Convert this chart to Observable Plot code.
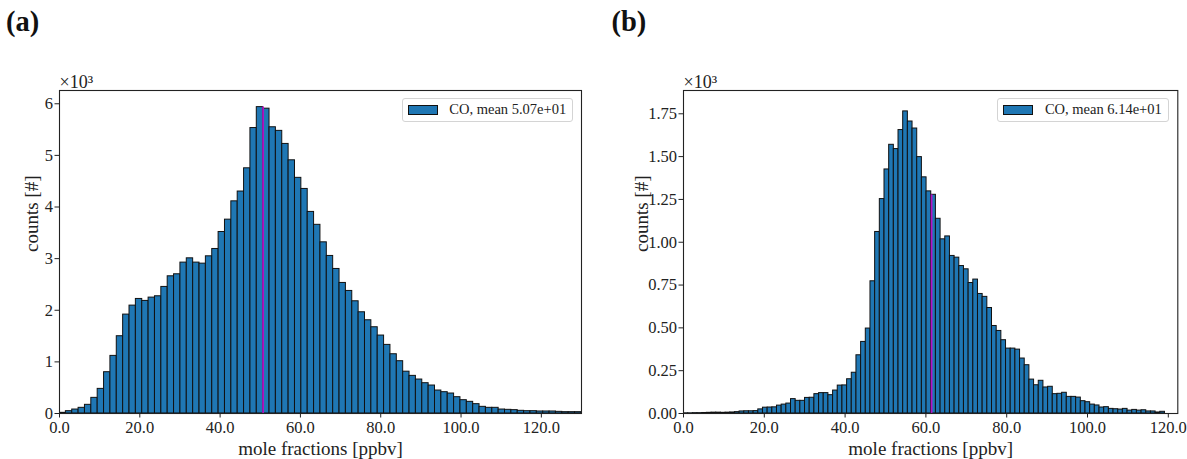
<!DOCTYPE html>
<html>
<head>
<meta charset="utf-8">
<script src="https://cdn.jsdelivr.net/npm/d3@7"></script>
<script src="https://cdn.jsdelivr.net/npm/@observablehq/plot@0.6"></script>
<style>
  body { margin: 0; background: #fff; font-family: "Liberation Serif", serif; color: #222; }
  #fig { position: relative; width: 1187px; height: 459px; overflow: hidden; }
  .panel { position: absolute; top: 0; width: 593px; height: 459px; }
  .panel svg { position: absolute; left: 0; top: 0; }
  .tag { position: absolute; top: 6px; font-weight: bold; font-size: 28.5px; color: #111; }
  .legend {
    position: absolute; height: 24.6px; box-sizing: border-box;
    border: 1px solid #d4d4d4; border-radius: 3px; background: rgba(255,255,255,0.85);
    display: flex; align-items: center; padding-left: 5px;
    font-size: 14.5px; white-space: nowrap; color: #222;
  }
  .legend .swatch {
    width: 30px; height: 10.7px; box-sizing: border-box;
    background: #1f77b4; border: 1px solid #111; margin-right: 11.6px; flex: none;
  }
</style>
</head>
<body>
<div id="fig"></div>
<script>
// Panel (a): CO mole fraction histogram, 82 bins of 1.585 ppbv starting at 0
const countsA = [
  13, 45, 77, 110, 168, 303, 477, 800, 1116, 1497,
  1916, 2090, 2219, 2181, 2245, 2271, 2452, 2658, 2697, 2923,
  3006, 2923, 2903, 3045, 3187, 3516, 3755, 4110, 4300, 4750,
  5530, 5935, 5905, 5545, 5475, 5222, 4905, 4565, 4350, 3905,
  3655, 3316, 3052, 2800, 2529, 2374, 2174, 1961, 1806, 1671,
  1510, 1329, 1148, 1013, 810, 729, 658, 587, 542, 445,
  413, 387, 316, 258, 226, 181, 129, 110, 110, 77,
  71, 65, 52, 45, 45, 39, 39, 39, 32, 26,
  26, 26
];
const binWidthA = 1.585;
const meanA = 50.7;

// Panel (b): CO mole fraction histogram, 103 bins of 1.157 ppbv starting at 0
const countsB = [
  1, 1, 2, 2, 3, 4, 5, 5, 4, 5,
  6, 8, 12, 13, 13, 14, 24, 34, 35, 36,
  46, 52, 58, 84, 74, 74, 91, 92, 113, 119,
  119, 107, 134, 163, 164, 200, 238, 340, 418, 496,
  772, 1060, 1252, 1425, 1569, 1544, 1655, 1764, 1705, 1664,
  1497, 1379, 1297, 1277, 1137, 1017, 1034, 920, 910, 861,
  842, 762, 782, 698, 681, 616, 511, 482, 428, 379,
  379, 373, 321, 282, 198, 165, 191, 152, 156, 113,
  115, 121, 97, 97, 93, 72, 66, 52, 47, 35,
  37, 27, 25, 23, 27, 17, 21, 17, 19, 12,
  12, 6, 10
];
const binWidthB = 1.157;
const meanB = 61.4;

// Axis ticks
const xTicks = [0, 20, 40, 60, 80, 100, 120];
const yTicksA = [0, 1000, 2000, 3000, 4000, 5000, 6000];
const yTicksB = [0, 250, 500, 750, 1000, 1250, 1500, 1750];

const seriesLabel = "CO";
const xLabel = "mole fractions [ppbv]";
const yLabel = "counts [#]";

function toBins(counts, width) {
  return counts.map((c, i) => ({x1: i * width, x2: (i + 1) * width, count: c}));
}

function histogram({counts, binWidth, mean, xMax, yMax, yTicks, yFormat, marginLeft, marginRight, yLabelDx}) {
  const bins = toBins(counts, binWidth);
  const meanBin = bins.find(b => mean >= b.x1 && mean < b.x2);
  return Plot.plot({
    width: 593,
    height: 459,
    marginTop: 90,
    marginBottom: 46,
    marginLeft,
    marginRight,
    style: {fontFamily: "Liberation Serif, serif", fontSize: "16px", color: "#222", background: "transparent"},
    x: {domain: [0, xMax]},
    y: {domain: [0, yMax]},
    marks: [
      Plot.rectY(bins, {x1: "x1", x2: "x2", y: "count", fill: "#1f77b4", stroke: "#111", strokeWidth: 1, clip: true}),
      Plot.ruleX([mean], {y1: 0, y2: meanBin.count, stroke: "#b414c4", strokeWidth: 1.8}),
      Plot.frame({stroke: "#222", strokeWidth: 1.1}),
      Plot.axisX(xTicks, {tickSize: 4.5, tickPadding: 3, tickFormat: d => d.toFixed(1), label: null, fontSize: 16.5}),
      Plot.axisY(yTicks, {tickSize: 4.5, tickPadding: 2, tickFormat: yFormat, label: null, fontSize: 16.5}),
      Plot.text([xLabel], {frameAnchor: "bottom", lineAnchor: "middle", dy: 35, fontSize: 19}),
      Plot.text([yLabel], {frameAnchor: "left", lineAnchor: "middle", rotate: -90, dx: yLabelDx, fontSize: 19}),
      Plot.text(["×10³"], {frameAnchor: "top-left", textAnchor: "start", lineAnchor: "bottom", dy: -3, fontSize: 18})
    ]
  });
}

function panel({left, tag, tagLeft, chart, legendLeft, mean}) {
  const div = document.createElement("div");
  div.className = "panel";
  div.style.left = left + "px";
  div.appendChild(chart);
  const t = document.createElement("div");
  t.className = "tag";
  t.style.left = tagLeft + "px";
  t.textContent = tag;
  div.appendChild(t);
  const lg = document.createElement("div");
  lg.className = "legend";
  lg.style.left = legendLeft + "px";
  lg.style.top = "97.7px";
  lg.style.width = "171.6px";
  const sw = document.createElement("span");
  sw.className = "swatch";
  const tx = document.createElement("span");
  tx.textContent = `${seriesLabel}, mean ${mean.toExponential(2).replace(/e([+-])(\d)$/, "e$10$2")}`;
  lg.appendChild(sw);
  lg.appendChild(tx);
  div.appendChild(lg);
  return div;
}

const fig = document.getElementById("fig");

fig.appendChild(panel({
  left: 0, tag: "(a)", tagLeft: 6, legendLeft: 401.7, mean: meanA,
  chart: histogram({
    counts: countsA, binWidth: binWidthA, mean: meanA,
    xMax: 130, yMax: 6257, yTicks: yTicksA,
    yFormat: d => String(d / 1000),
    marginLeft: 59, marginRight: 12, yLabelDx: -28
  })
}));

fig.appendChild(panel({
  left: 594, tag: "(b)", tagLeft: 17.5, legendLeft: 403.3, mean: meanB,
  chart: histogram({
    counts: countsB, binWidth: binWidthB, mean: meanB,
    xMax: 122.35, yMax: 1886, yTicks: yTicksB,
    yFormat: d => (d / 1000).toFixed(2),
    marginLeft: 89, marginRight: 9.7, yLabelDx: -42
  })
}));
</script>
</body>
</html>
